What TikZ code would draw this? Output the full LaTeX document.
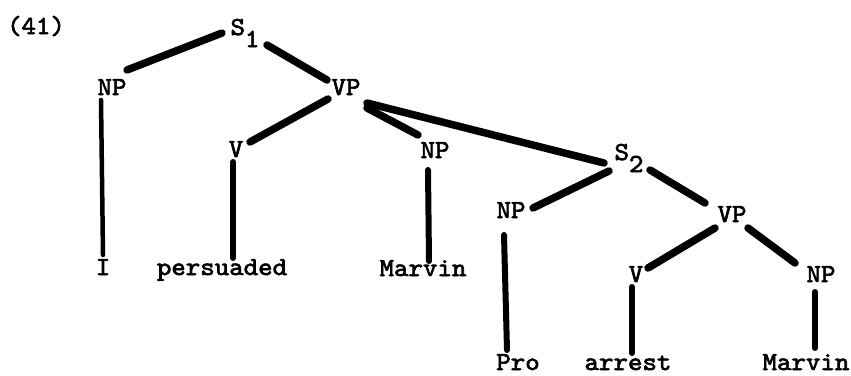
\documentclass[tikz,border=0pt]{standalone}
\usepackage{fontspec}
\usetikzlibrary{calc}
\newfontfamily\tw[FakeStretch=1.06,FakeBold=2.5]{lmmono10-regular.otf}
\begin{document}
\begin{tikzpicture}[x=1pt,y=-1pt,
  lab/.style={anchor=base,inner sep=0pt,outer sep=0pt,font=\tw\fontsize{26}{30}\selectfont},
  branch/.style={line width=7.5pt,line cap=round},
  stem/.style={line width=6pt,line cap=round},
  thinstem/.style={line width=4.5pt,line cap=round}]
\path[use as bounding box,fill=white] (0,0) rectangle (851,375);
% labels
\node[lab] (ex) at (36,34) {(41)};
\node[lab] (s1) at (245,35) {S\raisebox{-12pt}{1}};
\node[lab] (np1) at (112,95) {NP};
\node[lab] (vp1) at (346,95) {VP};
\node[lab] (v1) at (236,157) {V};
\node[lab] (np2) at (435,158) {NP};
\node[lab] (s2) at (629,160) {S\raisebox{-12pt}{2}};
\node[lab] (np3) at (511,218) {NP};
\node[lab] (vp2) at (732,222) {VP};
\node[lab] (v2) at (636,282) {V};
\node[lab] (np4) at (821,282) {NP};
\node[lab] (i) at (103,275) {I};
\node[lab] (pers) at (222,275) {persuaded};
\node[lab] (marv1) at (423,276) {Marvin};
\node[lab] (pro) at (518,370) {Pro};
\node[lab] (arr) at (628,370) {arrest};
\node[lab] (marv2) at (806,370) {Marvin};
% branches
\draw[branch] ($(s1.base)+(-23,-2)$) -- ($(np1.base)+(15,-25)$);
\draw[branch] ($(s1.base)+(22,10)$) -- ($(vp1.base)+(-19,-15)$);
\draw[branch] ($(vp1.base)+(-18,4)$) -- ($(v1.base)+(14,-15)$);
\draw[branch] ($(vp1.base)+(21,13)$) -- ($(np2.base)+(-17,-23)$);
\draw[branch] ($(vp1.base)+(21,8)$) -- ($(s2.base)+(-25,3)$);
\draw[branch] ($(s2.base)+(-20,11)$) -- ($(np3.base)+(22,-10)$);
\draw[branch] ($(s2.base)+(21,10)$) -- ($(vp2.base)+(-27,-19)$);
\draw[branch] ($(vp2.base)+(-17,6)$) -- ($(v2.base)+(12,-14)$);
\draw[branch] ($(vp2.base)+(16,6)$) -- ($(np4.base)+(-26,-19)$);
% stems
\draw[thinstem] ($(np1.base)+(-11,5)$) -- ($(i.base)+(0,-20)$);
\draw[stem] ($(v1.base)+(-3,5)$) -- ($(pers.base)+(11,-17)$);
\draw[stem] ($(np2.base)+(-7,12)$) -- ($(marv1.base)+(6,-15)$);
\draw[stem] ($(np3.base)+(-7,17)$) -- ($(pro.base)+(-11,-20)$);
\draw[stem] ($(v2.base)+(-4,5)$) -- ($(arr.base)+(4,-17)$);
\draw[stem] ($(np4.base)+(-6,10)$) -- ($(marv2.base)+(9,-22)$);
\end{tikzpicture}
\end{document}
